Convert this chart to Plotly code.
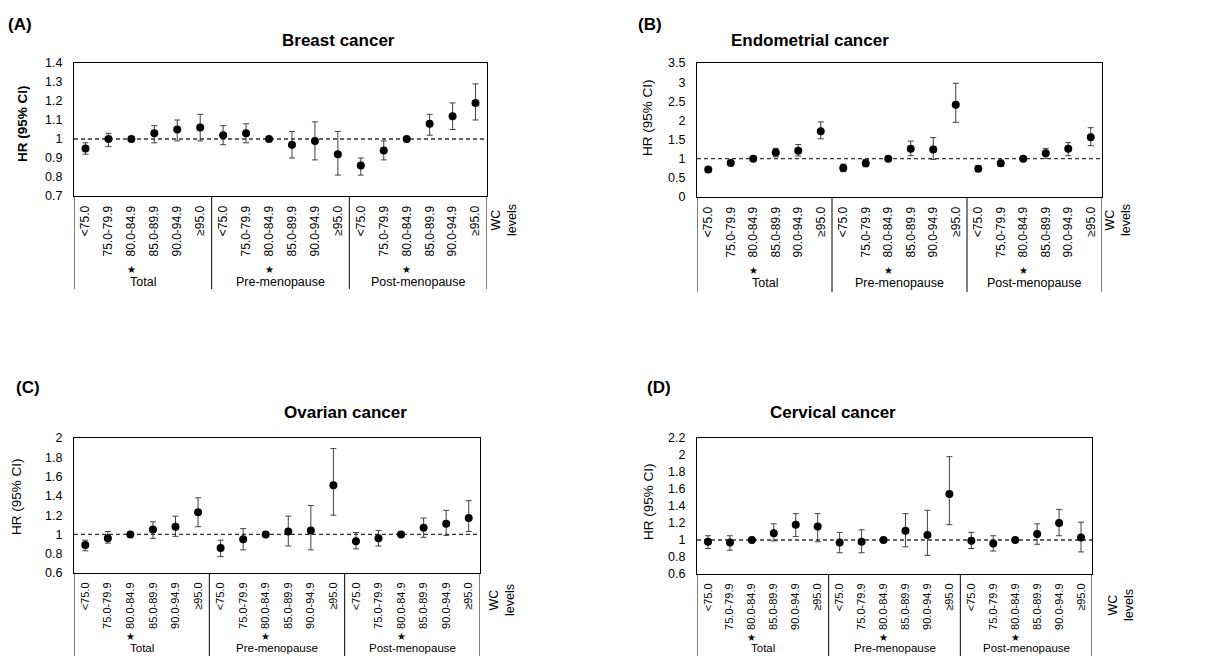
import plotly.graph_objects as go

group_names = ["Total", "Pre-menopause", "Post-menopause"]
level_names = ["<75.0", "75.0-79.9", "80.0-84.9", "85.0-89.9", "90.0-94.9", "≥95.0"]
ref_level = "80.0-84.9"  # reference category, marked with a star
levels = level_names * 3
xpos = list(range(len(levels)))

# (A) Breast cancer
a_hr = [0.95, 1.00, 1.00, 1.03, 1.05, 1.06, 1.02, 1.03, 1.00, 0.97, 0.99, 0.92, 0.86, 0.94, 1.00, 1.08, 1.12, 1.19]
a_lo = [0.92, 0.96, 1.00, 0.98, 0.99, 0.99, 0.97, 0.98, 1.00, 0.90, 0.89, 0.81, 0.81, 0.89, 1.00, 1.02, 1.05, 1.10]
a_hi = [0.98, 1.03, 1.00, 1.07, 1.10, 1.13, 1.07, 1.08, 1.00, 1.04, 1.09, 1.04, 0.90, 0.99, 1.00, 1.13, 1.19, 1.29]
# (B) Endometrial cancer
b_hr = [0.72, 0.89, 1.00, 1.16, 1.21, 1.72, 0.76, 0.88, 1.00, 1.26, 1.24, 2.41, 0.74, 0.88, 1.00, 1.14, 1.26, 1.56]
b_lo = [0.65, 0.82, 1.00, 1.05, 1.07, 1.52, 0.66, 0.79, 1.00, 1.08, 0.98, 1.95, 0.67, 0.80, 1.00, 1.01, 1.08, 1.34]
b_hi = [0.79, 0.96, 1.00, 1.27, 1.37, 1.96, 0.86, 0.98, 1.00, 1.46, 1.55, 2.97, 0.81, 0.96, 1.00, 1.27, 1.42, 1.81]
# (C) Ovarian cancer
c_hr = [0.89, 0.96, 1.00, 1.05, 1.08, 1.23, 0.86, 0.95, 1.00, 1.03, 1.04, 1.51, 0.93, 0.96, 1.00, 1.07, 1.11, 1.17]
c_lo = [0.83, 0.91, 1.00, 0.96, 0.98, 1.08, 0.77, 0.84, 1.00, 0.88, 0.84, 1.20, 0.85, 0.88, 1.00, 0.97, 0.99, 1.03]
c_hi = [0.94, 1.03, 1.00, 1.13, 1.19, 1.38, 0.94, 1.06, 1.00, 1.19, 1.30, 1.89, 1.02, 1.04, 1.00, 1.17, 1.25, 1.35]
# (D) Cervical cancer
d_hr = [0.98, 0.97, 1.00, 1.08, 1.18, 1.16, 0.97, 0.98, 1.00, 1.11, 1.06, 1.54, 0.99, 0.96, 1.00, 1.07, 1.20, 1.03]
d_lo = [0.90, 0.88, 1.00, 0.99, 1.04, 0.98, 0.85, 0.85, 1.00, 0.92, 0.82, 1.18, 0.90, 0.87, 1.00, 0.95, 1.05, 0.86]
d_hi = [1.05, 1.05, 1.00, 1.19, 1.31, 1.31, 1.09, 1.12, 1.00, 1.31, 1.35, 1.98, 1.09, 1.05, 1.00, 1.19, 1.36, 1.21]

W, H = 1227, 656
FONT = "Arial, Liberation Sans, sans-serif"

# box = (left, right, top, bottom) in pixels
panels = [
    dict(tag="(A)", title="Breast cancer", hr=a_hr, lo=a_lo, hi=a_hi, rng=[0.7, 1.4], dtick=0.1,
         box=(74, 487, 63, 196), bold_y=True, title_xy=(280, 40), tag_xy=(6, 25), ytitle_xy=(23, 124),
         wc_xy=(504, 202), grp_y=282, div_end=289, star_y=269, xfs=12, gfs=12.5),
    dict(tag="(B)", title="Endometrial cancer", hr=b_hr, lo=b_lo, hi=b_hi, rng=[0, 3.5], dtick=0.5,
         box=(697, 1102, 63, 197), bold_y=False, title_xy=(891, 40), tag_xy=(636, 25), ytitle_xy=(647, 118),
         wc_xy=(1118, 202), grp_y=283, div_end=292, star_y=270, xfs=12, gfs=12.5),
    dict(tag="(C)", title="Ovarian cancer", hr=c_hr, lo=c_lo, hi=c_hi, rng=[0.6, 2.0], dtick=0.2,
         box=(74, 480, 438, 573), bold_y=False, title_xy=(282, 413), tag_xy=(14, 387), ytitle_xy=(17, 497),
         wc_xy=(502, 582), grp_y=648, div_end=656, star_y=636, xfs=11, gfs=11.5),
    dict(tag="(D)", title="Cervical cancer", hr=d_hr, lo=d_lo, hi=d_hi, rng=[0.6, 2.2], dtick=0.2,
         box=(697, 1092, 438, 574), bold_y=False, title_xy=(898, 413), tag_xy=(645, 387), ytitle_xy=(648, 502),
         wc_xy=(1121, 587), grp_y=648, div_end=656, star_y=637, xfs=11, gfs=11.5),
]

fig = go.Figure()
annotations = []
shapes = []
layout_axes = {}


def px(xp):
    return xp / W


def py(yp):
    return 1 - yp / H


for i, p in enumerate(panels, start=1):
    xa = "x" if i == 1 else f"x{i}"
    ya = "y" if i == 1 else f"y{i}"
    x0, x1, y0, y1 = p["box"]
    fig.add_trace(go.Scatter(
        x=xpos, y=p["hr"], mode="markers", xaxis=xa, yaxis=ya,
        marker=dict(color="black", size=8),
        error_y=dict(type="data", symmetric=False,
                     array=[h - m for h, m in zip(p["hi"], p["hr"])],
                     arrayminus=[m - l for l, m in zip(p["lo"], p["hr"])],
                     color="#404040", thickness=1, width=3),
        showlegend=False, cliponaxis=False))
    layout_axes["xaxis" if i == 1 else f"xaxis{i}"] = dict(
        domain=[px(x0), px(x1)], anchor=ya, range=[-0.5, len(levels) - 0.5],
        tickmode="array", tickvals=xpos, ticktext=levels,
        showline=True, linecolor="black", linewidth=1, mirror=True,
        tickangle=-90, ticks="outside", ticklen=4, tickcolor="rgba(0,0,0,0)",
        showgrid=False, zeroline=False, automargin=False,
        tickfont=dict(family=FONT, size=p["xfs"], color="black"))
    layout_axes["yaxis" if i == 1 else f"yaxis{i}"] = dict(
        domain=[py(y1), py(y0)], anchor=xa, range=p["rng"], dtick=p["dtick"],
        showline=True, linecolor="black", linewidth=1, mirror=True,
        ticks="outside", ticklen=8, tickcolor="rgba(0,0,0,0)",
        showgrid=False, zeroline=False, automargin=False,
        tickfont=dict(family=FONT, size=12.5, color="black"))
    # reference line at HR = 1
    shapes.append(dict(type="line", xref=f"{xa} domain", yref=ya, x0=0, x1=1, y0=1, y1=1,
                       line=dict(color="#333333", width=1.3, dash="4px,3px"), layer="below"))
    # group dividers below the axis
    for b in [-0.5, 5.5, 11.5, 17.5]:
        shapes.append(dict(type="line", xref=xa, yref="paper", x0=b, x1=b,
                           y0=py(y1), y1=py(p["div_end"]), line=dict(color="black", width=1)))
    # group labels
    for g, gname in enumerate(group_names):
        annotations.append(dict(text=gname, xref=xa, yref="paper", x=g * 6 + 2.5, y=py(p["grp_y"]),
                                showarrow=False, yanchor="middle",
                                font=dict(family=FONT, size=p["gfs"], color="black")))
        # star below reference category
        annotations.append(dict(text="★", xref=xa, yref="paper", x=g * 6 + level_names.index(ref_level),
                                y=py(p["star_y"]), showarrow=False, yanchor="middle",
                                font=dict(family=FONT, size=10, color="black")))
    annotations.append(dict(text=f"<b>{p['title']}</b>", xref="paper", yref="paper",
                            x=px(p["title_xy"][0]), y=py(p["title_xy"][1]), yanchor="middle",
                            showarrow=False, font=dict(family=FONT, size=17, color="black")))
    annotations.append(dict(text=f"<b>{p['tag']}</b>", xref="paper", yref="paper",
                            x=px(p["tag_xy"][0]), y=py(p["tag_xy"][1]), xanchor="left", yanchor="middle",
                            showarrow=False, font=dict(family=FONT, size=17, color="black")))
    ytxt = "<b>HR (95% CI)</b>" if p["bold_y"] else "HR (95% CI)"
    annotations.append(dict(text=ytxt, xref="paper", yref="paper",
                            x=px(p["ytitle_xy"][0]), y=py(p["ytitle_xy"][1]), xanchor="center",
                            yanchor="middle", textangle=-90, showarrow=False,
                            font=dict(family=FONT, size=13.5, color="black")))
    annotations.append(dict(text="WC<br>levels", xref="paper", yref="paper",
                            x=px(p["wc_xy"][0]), y=py(p["wc_xy"][1]), xanchor="center", yanchor="top",
                            textangle=-90, showarrow=False,
                            font=dict(family=FONT, size=12.5, color="black")))

fig.update_layout(
    width=W, height=H, margin=dict(l=0, r=0, t=0, b=0),
    paper_bgcolor="white", plot_bgcolor="white",
    annotations=annotations, shapes=shapes, **layout_axes)

fig.write_html("out.html", config={"displayModeBar": False},
               post_script="document.body.style.margin='0';document.body.style.overflow='hidden';")
